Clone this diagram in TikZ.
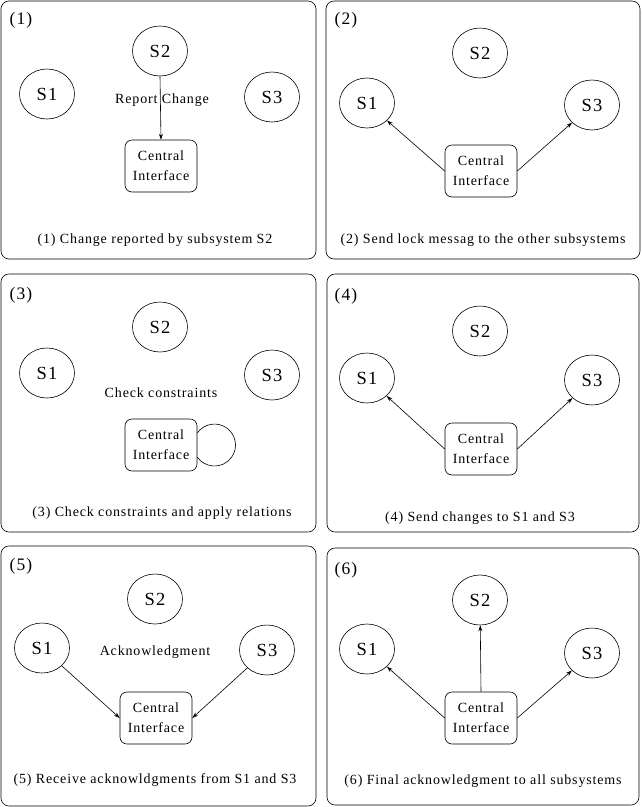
\documentclass[tikz,border=0pt]{standalone}
\usepackage{fontspec}
\setmainfont{Liberation Serif}[LetterSpace=6]
\usetikzlibrary{shapes.geometric,arrows.meta}
\tikzset{
  sys/.style={ellipse, draw, minimum width=55pt, minimum height=50pt, inner sep=0pt, font=\fontsize{18.5}{20}\selectfont},
  ci/.style={draw, rounded corners=7pt, minimum width=72pt, minimum height=52pt, inner sep=0pt, align=center, fill=white, font=\fontsize{14}{20}\selectfont},
  numlbl/.style={font=\fontsize{17.5}{20}\selectfont},
  txt/.style={font=\fontsize{14}{16}\selectfont},
  panel/.style={draw, rounded corners=8pt},
  arr/.style={-{Stealth[length=6pt,width=4pt]}},
}
\begin{document}
\begin{tikzpicture}[x=1pt,y=-1pt,line width=0.6pt]
\useasboundingbox (0,0) rectangle (641,807);
% panel frames
\draw[panel] (1,1) rectangle (316,259);
\draw[panel] (326,1) rectangle (640,259);
\draw[panel] (1,274) rectangle (316,532);
\draw[panel] (327,274) rectangle (639,532);
\draw[panel] (1,546) rectangle (316,806);
\draw[panel] (327,548) rectangle (639,805);

% ---------- panel 1
\node[numlbl] (n1) at (21,20) {(1)};
\node[sys] (a1) at (47,94) {S1};
\node[sys] (a2) at (160,51) {S2};
\node[sys] (a3) at (272,97) {S3};
\node[ci] (ab) at (161,166) {Central\\Interface};
\node[txt] (at) at (162,100) {Report Change};
\node[txt] (ac) at (155,240) {(1) Change reported by subsystem S2};
\draw[arr] (a2.south) -- (ab.north);

% ---------- panel 2
\node[numlbl] (n2) at (346,20) {(2)};
\node[sys] (b1) at (367,103) {S1};
\node[sys] (b2) at (480,53) {S2};
\node[sys] (b3) at (592,105) {S3};
\node[ci] (bb) at (481,171) {Central\\Interface};
\node[txt] (bc) at (483,240) {(2) Send lock messag to the other subsystems};
\draw[arr] (bb.west) -- (b1);
\draw[arr] (bb.east) -- (b3);

% ---------- panel 3
\node[numlbl] (n3) at (21,295) {(3)};
\node[sys] (c1) at (47,373) {S1};
\node[sys] (c2) at (160,327) {S2};
\node[sys] (c3) at (272,375) {S3};
\node[txt] (ct) at (161,393) {Check constraints};
\node[ci] (cb) at (161,445) {Central\\Interface};
\draw ([yshift=12pt]cb.east) arc[start angle=145, end angle=-145, radius=21pt];
\node[txt] (cc) at (162,513) {(3) Check constraints and apply relations};

% ---------- panel 4
\node[numlbl] (n4) at (346,296) {(4)};
\node[sys] (d1) at (367,378) {S1};
\node[sys] (d2) at (480,331) {S2};
\node[sys] (d3) at (592,380) {S3};
\node[ci] (db) at (481,449) {Central\\Interface};
\node[txt] (dc) at (480,518) {(4) Send changes to S1 and S3};
\draw[arr] (db.west) -- (d1);
\draw[arr] (db.east) -- (d3);

% ---------- panel 5
\node[numlbl] (n5) at (21,566) {(5)};
\node[sys] (e1) at (42,648) {S1};
\node[sys] (e2) at (155,599) {S2};
\node[sys] (e3) at (267,650) {S3};
\node[txt] (et) at (155,652) {Acknowledgment};
\node[ci] (eb) at (156,718) {Central\\Interface};
\node[txt] (ec) at (155,780) {(5) Receive acknowldgments from S1 and S3};
\draw[arr] (e1) -- (eb.west);
\draw[arr] (e3) -- (eb.east);

% ---------- panel 6
\node[numlbl] (n6) at (346,570) {(6)};
\node[sys] (f1) at (367,649) {S1};
\node[sys] (f2) at (480,600) {S2};
\node[sys] (f3) at (592,653) {S3};
\node[ci] (fb) at (481,718) {Central\\Interface};
\node[txt] (fc) at (483,781) {(6) Final acknowledgment to all subsystems};
\draw[arr] (fb.west) -- (f1);
\draw[arr] (fb.north) -- (f2);
\draw[arr] (fb.east) -- (f3);
\end{tikzpicture}
\end{document}
